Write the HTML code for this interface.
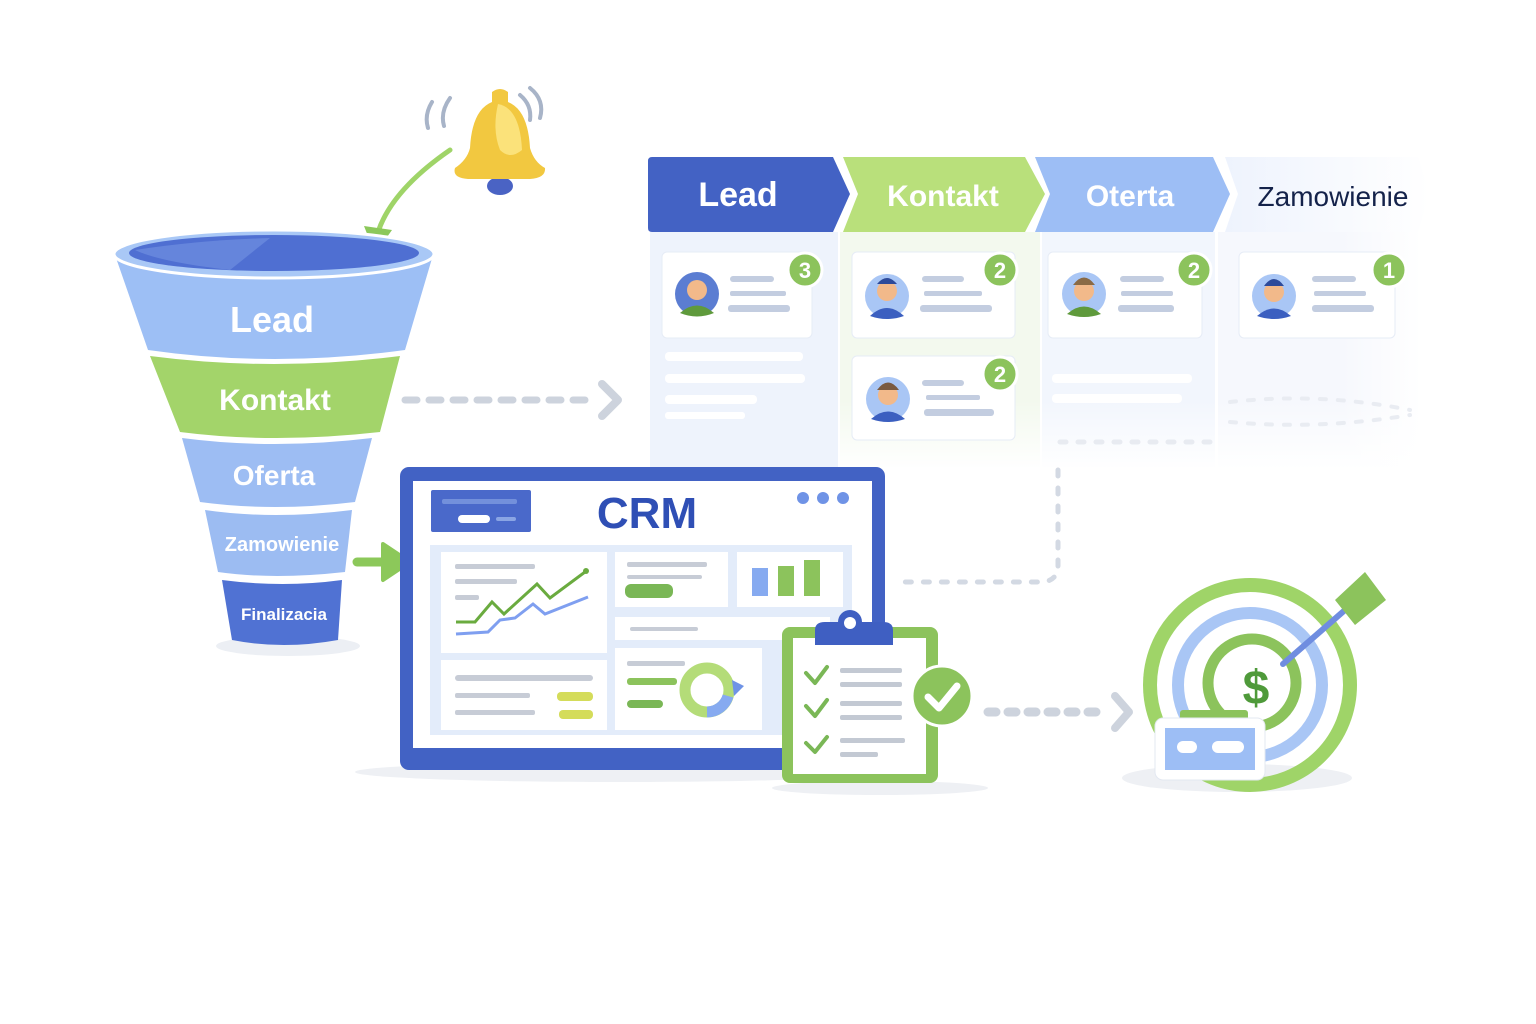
<!DOCTYPE html>
<html><head><meta charset="utf-8"><style>
html,body{margin:0;padding:0;background:#fff;}
svg{display:block;font-family:"Liberation Sans",sans-serif;}
</style></head><body>
<svg width="1536" height="1024" viewBox="0 0 1536 1024" xmlns="http://www.w3.org/2000/svg">
<defs>
<linearGradient id="fade" x1="0" x2="1" y1="0" y2="0"><stop offset="0" stop-color="#eef3fd"/><stop offset="1" stop-color="#fff"/></linearGradient>
<linearGradient id="vfade" x1="0" x2="0" y1="0" y2="1"><stop offset="0" stop-color="#fff" stop-opacity="0"/><stop offset="1" stop-color="#fff" stop-opacity="1"/></linearGradient>
<linearGradient id="hfade" x1="0" x2="1" y1="0" y2="0"><stop offset="0" stop-color="#fff" stop-opacity="0"/><stop offset="1" stop-color="#fff" stop-opacity="1"/></linearGradient>
</defs>

<!-- Kanban columns -->
<rect x="650" y="232" width="188" height="235" fill="#eef3fc"/>
<rect x="840" y="232" width="200" height="235" fill="#f3f9ee"/>
<rect x="1042" y="232" width="173" height="235" fill="#f2f6fd"/>
<rect x="1218" y="232" width="200" height="235" fill="#f6f8fd"/>
<rect x="840" y="400" width="580" height="70" fill="url(#vfade)"/>
<rect x="1340" y="232" width="82" height="240" fill="url(#hfade)"/>
<rect x="665" y="352" width="138" height="9" rx="4" fill="#fff"/>
<rect x="665" y="374" width="140" height="9" rx="4" fill="#fff"/>
<rect x="665" y="395" width="92" height="9" rx="4" fill="#fff"/>
<rect x="665" y="412" width="80" height="7" rx="3" fill="#fff"/>
<rect x="1052" y="374" width="140" height="9" rx="4" fill="#fff"/>
<rect x="1052" y="394" width="130" height="9" rx="4" fill="#fff"/>

<!-- header chevrons -->
<path d="M1225 157 H1418 L1430 194 L1418 232 H1225 L1238 194 Z" fill="url(#fade)"/>
<path d="M1035 157 H1213 L1230 194 L1213 232 H1035 L1050 194 Z" fill="#9dbef5"/>
<path d="M843 157 H1025 L1045 194 L1025 232 H843 L858 194 Z" fill="#b9e07b"/>
<path d="M652 157 H833 L850 194 L833 232 H652 Q648 232 648 228 V161 Q648 157 652 157 Z" fill="#4362c4"/>
<text x="738" y="206" font-size="34" font-weight="bold" fill="#fff" text-anchor="middle">Lead</text>
<text x="943" y="206" font-size="30" font-weight="bold" fill="#fff" text-anchor="middle">Kontakt</text>
<text x="1130" y="206" font-size="30" font-weight="bold" fill="#fff" text-anchor="middle">Oterta</text>
<text x="1333" y="206" font-size="28" fill="#14224a" text-anchor="middle">Zamowienie</text>

<!-- cards -->
<g fill="#fff" stroke="#e6ecf6">
<rect x="662" y="252" width="150" height="86" rx="5"/>
<rect x="852" y="252" width="163" height="86" rx="5"/>
<rect x="852" y="356" width="163" height="84" rx="5"/>
<rect x="1048" y="252" width="154" height="86" rx="5"/>
<rect x="1239" y="252" width="156" height="86" rx="5"/>
</g>
<g fill="#c3cde0">
<rect x="730" y="276" width="44" height="6" rx="3"/><rect x="730" y="291" width="56" height="5" rx="2"/><rect x="728" y="305" width="62" height="7" rx="3"/>
<rect x="922" y="276" width="42" height="6" rx="3"/><rect x="924" y="291" width="58" height="5" rx="2"/><rect x="920" y="305" width="72" height="7" rx="3"/>
<rect x="922" y="380" width="42" height="6" rx="3"/><rect x="926" y="395" width="54" height="5" rx="2"/><rect x="924" y="409" width="70" height="7" rx="3"/>
<rect x="1120" y="276" width="44" height="6" rx="3"/><rect x="1121" y="291" width="52" height="5" rx="2"/><rect x="1118" y="305" width="56" height="7" rx="3"/>
<rect x="1312" y="276" width="44" height="6" rx="3"/><rect x="1314" y="291" width="52" height="5" rx="2"/><rect x="1312" y="305" width="62" height="7" rx="3"/>
</g>
<!-- avatars -->
<g>
<circle cx="697" cy="294" r="22" fill="#5b7dd2"/><circle cx="697" cy="290" r="10" fill="#f2b98a"/><path d="M680 313 Q697 298 714 313 Q697 320 680 313Z" fill="#5f9a3c"/>
<circle cx="887" cy="296" r="22" fill="#a9c6f5"/><circle cx="887" cy="291" r="10" fill="#f2b98a"/><path d="M877 284 Q887 272 897 284Z" fill="#2d4a9a"/><path d="M870 316 Q887 300 904 316 Q887 322 870 316Z" fill="#3b5fc0"/>
<circle cx="888" cy="399" r="22" fill="#a9c6f5"/><circle cx="888" cy="395" r="10" fill="#f2b98a"/><path d="M877 390 Q888 375 899 390Z" fill="#7a5a40"/><path d="M871 419 Q888 404 905 419 Q888 425 871 419Z" fill="#3b5fc0"/>
<circle cx="1084" cy="294" r="22" fill="#a9c6f5"/><circle cx="1084" cy="291" r="10" fill="#f2b98a"/><path d="M1073 285 Q1084 270 1095 285Z" fill="#8a6a45"/><path d="M1067 314 Q1084 299 1101 314 Q1084 320 1067 314Z" fill="#5f9a3c"/>
<circle cx="1274" cy="296" r="22" fill="#a9c6f5"/><circle cx="1274" cy="292" r="10" fill="#f2b98a"/><path d="M1264 286 Q1274 272 1284 286Z" fill="#2d4a9a"/><path d="M1257 316 Q1274 301 1291 316 Q1274 322 1257 316Z" fill="#3b5fc0"/>
</g>
<!-- badges -->
<g fill="#8cc35c" stroke="#fff" stroke-width="3">
<circle cx="805" cy="270" r="17"/><circle cx="1000" cy="270" r="17"/><circle cx="1194" cy="270" r="17"/><circle cx="1389" cy="270" r="17"/><circle cx="1000" cy="374" r="17"/>
</g>
<g fill="#fff" font-size="22" font-weight="bold" text-anchor="middle">
<text x="805" y="278">3</text><text x="1000" y="278">2</text><text x="1194" y="278">2</text><text x="1389" y="278">1</text><text x="1000" y="382">2</text>
</g>

<!-- faint dotted connectors -->
<g stroke="#d3d9e3" stroke-width="5" stroke-linecap="round" stroke-dasharray="6 12" fill="none">
<path d="M1058 470 V565 Q1058 582 1040 582 H905"/>
<path d="M1060 442 H1215" stroke="#e8ebf1"/>
<path d="M1230 402 Q1320 392 1410 410" stroke="#e9ecf2" stroke-width="4"/>
<path d="M1230 422 Q1320 430 1410 415" stroke="#e9ecf2" stroke-width="4"/>
</g>

<!-- bell -->
<g fill="none" stroke="#a8b4c8" stroke-width="4" stroke-linecap="round">
<path d="M432 102 Q424 115 428 128"/><path d="M450 98 Q440 112 444 126"/>
<path d="M520 95 Q532 105 530 120"/><path d="M530 88 Q545 100 540 118"/>
</g>
<ellipse cx="500" cy="186" rx="13" ry="9" fill="#4a63c4"/>
<path d="M492 92 Q500 86 508 92 L508 102 Q528 110 530 148 Q534 162 545 168 Q546 178 530 179 H468 Q452 178 455 168 Q467 160 470 148 Q472 110 492 102 Z" fill="#f2c840"/>
<path d="M498 104 Q520 108 522 150 Q510 160 500 150 Q492 130 498 104Z" fill="#fbe27a"/>
<!-- green curved arrow -->
<path d="M450 150 Q392 190 378 232" stroke="#9fd468" stroke-width="5" fill="none" stroke-linecap="round"/>
<path d="M364 226 L375 254 L392 230 Z" fill="#8cc85a"/>

<!-- funnel -->
<ellipse cx="288" cy="646" rx="72" ry="10" fill="#eceff4"/>
<path d="M115 255 Q273 290 433 255 L405 350 Q273 368 148 350 Z" fill="#9dbff5"/>
<ellipse cx="274" cy="254" rx="160" ry="24" fill="#a9c8f6" stroke="#fff" stroke-width="3"/>
<ellipse cx="274" cy="253" rx="145" ry="18" fill="#4f6fd2"/>
<path d="M135 250 Q200 240 270 238 L230 270 Q160 262 135 250Z" fill="#7595e2" opacity="0.6"/>
<path d="M150 356 Q273 372 400 356 L380 432 Q273 444 180 432 Z" fill="#a3d46a"/>
<path d="M182 438 Q273 450 372 438 L355 502 Q273 512 200 502 Z" fill="#9dbdf3"/>
<path d="M205 510 Q273 520 352 510 L345 572 Q273 580 218 572 Z" fill="#9cbcf2"/>
<path d="M222 580 Q283 588 342 580 L338 640 Q283 650 232 640 Z" fill="#5072d3"/>
<g fill="#fff" font-weight="bold" text-anchor="middle">
<text x="272" y="332" font-size="36">Lead</text>
<text x="275" y="410" font-size="30">Kontakt</text>
<text x="274" y="485" font-size="28">Oferta</text>
<text x="282" y="551" font-size="20">Zamowienie</text>
<text x="284" y="620" font-size="17">Finalizacia</text>
</g>

<!-- dashed arrow funnel->kanban -->
<path d="M405 400 H592" stroke="#cdd3dd" stroke-width="7" stroke-linecap="round" stroke-dasharray="12 12"/>
<path d="M602 384 L618 400 L602 416" stroke="#cdd3dd" stroke-width="8" fill="none" stroke-linecap="round" stroke-linejoin="round"/>

<!-- green arrow to CRM -->
<path d="M357 562 H392" stroke="#8cc85a" stroke-width="9" stroke-linecap="round"/>
<path d="M383 544 L410 562 L383 580 Z" fill="#8cc85a" stroke="#8cc85a" stroke-width="4" stroke-linejoin="round"/>

<!-- CRM window -->
<ellipse cx="620" cy="772" rx="265" ry="10" fill="#eef0f4"/>
<rect x="400" y="467" width="485" height="303" rx="9" fill="#4262c4"/>
<rect x="413" y="481" width="459" height="267" fill="#fff"/>
<rect x="431" y="490" width="100" height="42" rx="2" fill="#4a69ca"/>
<rect x="442" y="499" width="75" height="5" rx="2" fill="#7390db"/>
<rect x="458" y="515" width="32" height="8" rx="4" fill="#fff"/>
<rect x="496" y="517" width="20" height="4" rx="2" fill="#8aa5e4"/>
<text x="647" y="528" font-size="44" font-weight="bold" fill="#2f4fb5" text-anchor="middle">CRM</text>
<circle cx="803" cy="498" r="6" fill="#6f93e6"/><circle cx="823" cy="498" r="6" fill="#6f93e6"/><circle cx="843" cy="498" r="6" fill="#6f93e6"/>
<rect x="430" y="545" width="422" height="190" fill="#e3ecfa"/>
<g fill="#fff">
<rect x="441" y="552" width="166" height="101"/><rect x="615" y="552" width="113" height="55"/><rect x="737" y="552" width="106" height="55"/>
<rect x="615" y="617" width="215" height="23"/><rect x="441" y="660" width="166" height="70"/><rect x="615" y="648" width="147" height="82"/>
</g>
<g fill="#c7ccd6">
<rect x="455" y="564" width="80" height="5" rx="2"/><rect x="455" y="579" width="62" height="5" rx="2"/><rect x="455" y="595" width="24" height="5" rx="2"/>
<rect x="627" y="562" width="80" height="5" rx="2"/><rect x="627" y="575" width="75" height="4" rx="2"/>
<rect x="630" y="627" width="68" height="4" rx="2"/>
<rect x="455" y="675" width="138" height="6" rx="3"/><rect x="455" y="693" width="75" height="5" rx="2"/><rect x="455" y="710" width="80" height="5" rx="2"/>
<rect x="627" y="661" width="58" height="5" rx="2"/>
</g>
<rect x="625" y="584" width="48" height="14" rx="6" fill="#7ab756"/>
<rect x="752" y="568" width="16" height="28" fill="#86aaf0"/><rect x="778" y="566" width="16" height="30" fill="#8cc35c"/><rect x="804" y="560" width="16" height="36" fill="#8cc35c"/>
<rect x="557" y="692" width="36" height="9" rx="4" fill="#d4dc5a"/><rect x="559" y="710" width="34" height="9" rx="4" fill="#d4dc5a"/>
<polyline points="456,622 475,622 492,602 504,614 537,584 550,598 585,572" fill="none" stroke="#6aab3f" stroke-width="3"/>
<circle cx="586" cy="571" r="3" fill="#6aab3f"/>
<polyline points="456,634 488,632 500,620 515,618 533,604 545,614 588,597" fill="none" stroke="#7f9ff0" stroke-width="3"/>
<rect x="627" y="678" width="50" height="7" rx="3" fill="#8cc35c"/><rect x="627" y="700" width="36" height="8" rx="4" fill="#7ab756"/>
<circle cx="707" cy="690" r="22" fill="none" stroke="#b4dc78" stroke-width="11"/>
<path d="M707 712 A22 22 0 0 0 728 696" fill="none" stroke="#86aaf0" stroke-width="11"/>
<path d="M732 680 L744 686 L734 696 Z" fill="#6f93e6"/>

<!-- clipboard -->
<ellipse cx="880" cy="788" rx="108" ry="7" fill="#eef0f4"/>
<rect x="782" y="627" width="156" height="156" rx="8" fill="#8cc35c"/>
<rect x="793" y="638" width="133" height="136" fill="#fff"/>
<path d="M815 645 V630 Q815 622 825 622 H838 A12 12 0 0 1 862 622 H883 Q893 622 893 630 V645 Z" fill="#3f5fc2"/>
<circle cx="850" cy="623" r="6" fill="#fff"/>
<g fill="none" stroke="#7ab756" stroke-width="4" stroke-linecap="round" stroke-linejoin="round">
<path d="M806 673 L815 683 L827 667"/><path d="M806 706 L815 716 L827 700"/><path d="M806 743 L815 752 L827 737"/>
</g>
<g fill="#c3c9d3">
<rect x="840" y="668" width="62" height="5" rx="2"/><rect x="840" y="682" width="62" height="5" rx="2"/>
<rect x="840" y="701" width="62" height="5" rx="2"/><rect x="840" y="715" width="62" height="5" rx="2"/>
<rect x="840" y="738" width="65" height="5" rx="2"/><rect x="840" y="752" width="38" height="5" rx="2"/>
</g>
<circle cx="942" cy="696" r="30" fill="#8cc35c" stroke="#fff" stroke-width="3"/>
<path d="M928 697 L939 708 L957 686" fill="none" stroke="#fff" stroke-width="7" stroke-linecap="round" stroke-linejoin="round"/>

<!-- dashed arrow to target -->
<path d="M988 712 H1100" stroke="#cdd3dd" stroke-width="9" stroke-linecap="round" stroke-dasharray="8 12"/>
<path d="M1115 696 L1129 712 L1115 728" stroke="#cdd3dd" stroke-width="8" fill="none" stroke-linecap="round" stroke-linejoin="round"/>

<!-- target -->
<ellipse cx="1237" cy="778" rx="115" ry="14" fill="#eef0f4"/>
<circle cx="1250" cy="685" r="100" fill="none" stroke="#9fd468" stroke-width="14"/>
<circle cx="1250" cy="685" r="72" fill="none" stroke="#a9c6f5" stroke-width="12"/>
<circle cx="1252" cy="683" r="44" fill="none" stroke="#8cc35c" stroke-width="11"/>
<circle cx="1252" cy="683" r="38" fill="#fff"/>
<text x="1256" y="704" font-size="48" font-weight="bold" fill="#4f9a3a" text-anchor="middle">$</text>
<path d="M1283 664 L1345 610" stroke="#6f8de0" stroke-width="6" stroke-linecap="round"/>
<path d="M1335 600 L1365 572 L1386 600 L1355 625 Z" fill="#8cc35c"/>
<rect x="1180" y="710" width="68" height="12" rx="3" fill="#8cc35c"/>
<rect x="1155" y="718" width="110" height="62" rx="8" fill="#fff" stroke="#e3e8f1"/>
<rect x="1165" y="728" width="90" height="42" fill="#9dbef5"/>
<rect x="1177" y="741" width="20" height="12" rx="6" fill="#fff"/>
<rect x="1212" y="741" width="32" height="12" rx="6" fill="#fff"/>
</svg>
</body></html>
